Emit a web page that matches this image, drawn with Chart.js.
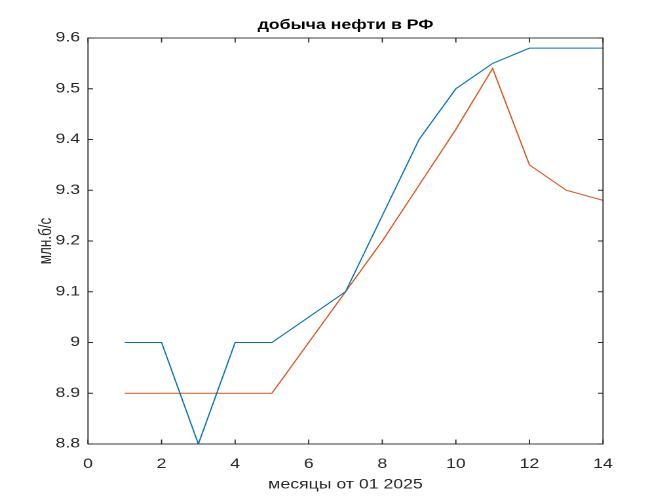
<!DOCTYPE html>
<html lang="ru">
<head>
    <meta charset="UTF-8">
    <title>добыча нефти в РФ</title>
    <script src="https://cdn.jsdelivr.net/npm/chart.js"></script>
<style>
    body { margin: 0; background: #fff; overflow: hidden; }
    /* исходная картинка растянута по горизонтали, поэтому рисуем уже и растягиваем */
    #wrap {
        width: 509px;
        height: 500px;
        transform: scaleX(1.3104);
        transform-origin: 0 0;
    }
</style>
</head>
<body>
<div id="wrap"><canvas id="myChart"></canvas></div>
<script>
    // данные
    const months = [1, 2, 3, 4, 5, 6, 7, 8, 9, 10, 11, 12, 13, 14];
    const seriesBlue = [9.0, 9.0, 8.8, 9.0, 9.0, 9.05, 9.1, 9.25, 9.4, 9.5, 9.55, 9.58, 9.58, 9.58];
    const seriesOrange = [8.9, 8.9, 8.9, 8.9, 8.9, 9.0, 9.1, 9.2, 9.31, 9.42, 9.54, 9.35, 9.3, 9.28];
    const xTicks = [0, 2, 4, 6, 8, 10, 12, 14];
    const yTicks = [8.8, 8.9, 9.0, 9.1, 9.2, 9.3, 9.4, 9.5, 9.6];

    const axisColor = '#262626';
    const fontFamily = 'Liberation Sans';

    // рамка и засечки внутрь со всех четырёх сторон, как в MATLAB
    const boxTicks = {
        id: 'boxTicks',
        afterDraw(chart) {
            const { ctx, chartArea: a, scales } = chart;
            const lenV = 4.5, lenH = 3.8;
            ctx.save();
            ctx.strokeStyle = axisColor;
            ctx.lineWidth = 0.9;
            ctx.beginPath();
            xTicks.forEach(v => {
                const px = scales.x.getPixelForValue(v);
                ctx.moveTo(px, a.bottom); ctx.lineTo(px, a.bottom - lenV);
                ctx.moveTo(px, a.top); ctx.lineTo(px, a.top + lenV);
            });
            yTicks.forEach(v => {
                const py = scales.y.getPixelForValue(v);
                ctx.moveTo(a.left, py); ctx.lineTo(a.left + lenH, py);
                ctx.moveTo(a.right, py); ctx.lineTo(a.right - lenH, py);
            });
            ctx.stroke();
            ctx.strokeRect(a.left, a.top, a.right - a.left, a.bottom - a.top);
            ctx.restore();
        }
    };

    function createChart() {
        const ctx = document.getElementById('myChart').getContext('2d');
        new Chart(ctx, {
            type: 'line',
            data: {
                labels: months,
                datasets: [{
                    data: months.map((m, i) => ({ x: m, y: seriesBlue[i] })),
                    borderColor: '#0072BD',
                    borderWidth: 1,
                    pointRadius: 0,
                    tension: 0
                }, {
                    data: months.map((m, i) => ({ x: m, y: seriesOrange[i] })),
                    borderColor: '#D95319',
                    borderWidth: 1,
                    pointRadius: 0,
                    tension: 0
                }]
            },
            options: {
                responsive: true,
                maintainAspectRatio: false,
                animation: false,
                devicePixelRatio: 2,
                layout: { padding: { left: 0, right: 48.84, top: 0, bottom: 0 } },
                plugins: {
                    legend: { display: false },
                    tooltip: { enabled: false },
                    title: {
                        display: true,
                        fullSize: false,
                        text: 'добыча нефти в РФ',
                        color: '#000',
                        font: { family: fontFamily, size: 13.5, weight: 'bold' },
                        padding: { top: 17, bottom: 4.8 }
                    }
                },
                scales: {
                    x: {
                        type: 'linear',
                        min: 0, max: 14,
                        afterBuildTicks: s => { s.ticks = xTicks.map(v => ({ value: v })); },
                        afterFit: s => { s.height = 56; },
                        grid: { display: false, drawTicks: false },
                        border: { display: false },
                        ticks: {
                            color: axisColor,
                            padding: 12,
                            maxRotation: 0,
                            font: { family: fontFamily, size: 13.5 }
                        },
                        title: {
                            display: true,
                            text: 'месяцы от 01 2025',
                            color: axisColor,
                            font: { family: fontFamily, size: 13.5 },
                            padding: 7
                        }
                    },
                    y: {
                        min: 8.8, max: 9.6,
                        afterBuildTicks: s => { s.ticks = yTicks.map(v => ({ value: v })); },
                        afterFit: s => { s.width = 67.15; },
                        grid: { display: false, drawTicks: false },
                        border: { display: false },
                        ticks: {
                            color: axisColor,
                            padding: 6,
                            font: { family: fontFamily, size: 13.5 },
                            callback: v => String(Math.round(v * 10) / 10)
                        },
                        title: {
                            display: true,
                            text: 'млн.б/с',
                            color: axisColor,
                            font: { family: fontFamily, size: 13.5 },
                            padding: 27
                        }
                    }
                }
            },
            plugins: [boxTicks]
        });
    }
    createChart();
</script>
</body>
</html>
